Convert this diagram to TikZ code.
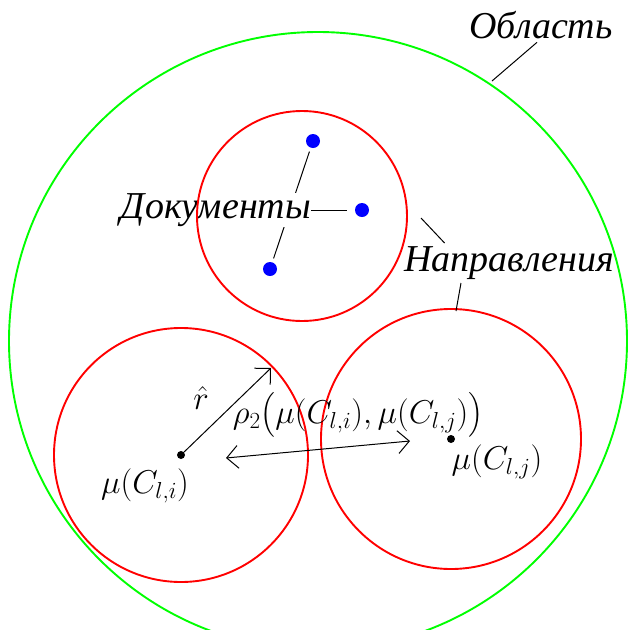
\RequirePackage{fix-cm}
\documentclass[tikz,border=0pt]{standalone}
\usepackage{amsmath}
\usepackage{fontspec}
\setmainfont{Liberation Serif}
\usetikzlibrary{arrows.meta}

\begin{document}
\begin{tikzpicture}[
  x=1pt, y=-1pt,
  every node/.style={font=\fontsize{38}{42}\selectfont\itshape},
  mlab/.style={font=\fontsize{33}{38}\selectfont},
  area/.style={draw=green, line width=1.9pt},
  dir/.style={draw=red, line width=1.9pt},
  lead/.style={line width=1pt},
  doc/.style={circle, fill=blue, inner sep=0pt, minimum size=14pt},
  cent/.style={circle, fill=black, inner sep=0pt, minimum size=8pt},
  arr/.style={line width=1pt, -{Straight Barb[length=4mm]}}
]
  \useasboundingbox (0,0) rectangle (630,630);
  \clip (0,0) rectangle (630,630);

  % documents and their label
  \node[doc] (d1) at (313,141) {};
  \node[doc] (d2) at (362,210) {};
  \node[doc] (d3) at (270,269) {};
  \draw[lead, shorten <=4pt, shorten >=4pt] (d1) -- (d3);
  \node[fill=white, inner sep=0pt] (docs) at (216,210) {Документы};
  \draw[lead, shorten >=8pt] (docs) -- (d2);

  % centres
  \node[cent] (mui) at (181,455) {};
  \node[cent] (muj) at (451,439) {};

  % area and directions
  \coordinate (oarea) at (318,341);
  \coordinate (ctop) at (302,216);
  \draw[area] (oarea) circle[radius=309pt];
  \draw[dir] (ctop) circle[radius=105pt];
  \draw[dir] (mui) circle[radius=127pt];
  \draw[dir] (muj) circle[radius=130pt];

  % labels with leaders
  \node (area) at (541,25) {Область};
  \coordinate (ga) at (492,81);
  \draw[lead] ([xshift=-4pt]area.south) -- (ga);

  \node (napr) at (509,263) {Направления};
  \coordinate (nt) at (421,218);
  \coordinate (nb) at (456,311);
  \draw[lead] ([xshift=44pt]napr.north west) -- (nt);
  \draw[lead] ([xshift=-48pt]napr.south) -- (nb);

  % radius and distance
  \coordinate (rtip) at (271,368);
  \draw[arr] (mui) -- (rtip);
  \node[mlab, inner sep=1pt] (rlab) at (201,398) {$\hat r$};

  \coordinate (dl) at (226,458);
  \coordinate (dr) at (410,441);
  \draw[arr, {Straight Barb[length=4mm]}-{Straight Barb[length=4mm]}] (dl) -- (dr);
  \node[mlab, inner sep=1pt] (rho) at (358,415) {$\rho_2\bigl(\mu(C_{l,i}),\mu(C_{l,j})\bigr)$};

  \node[mlab] (labi) at (145,486) {$\mu(C_{l,i})$};
  \node[mlab] (labj) at (497,462) {$\mu(C_{l,j})$};
\end{tikzpicture}
\end{document}
